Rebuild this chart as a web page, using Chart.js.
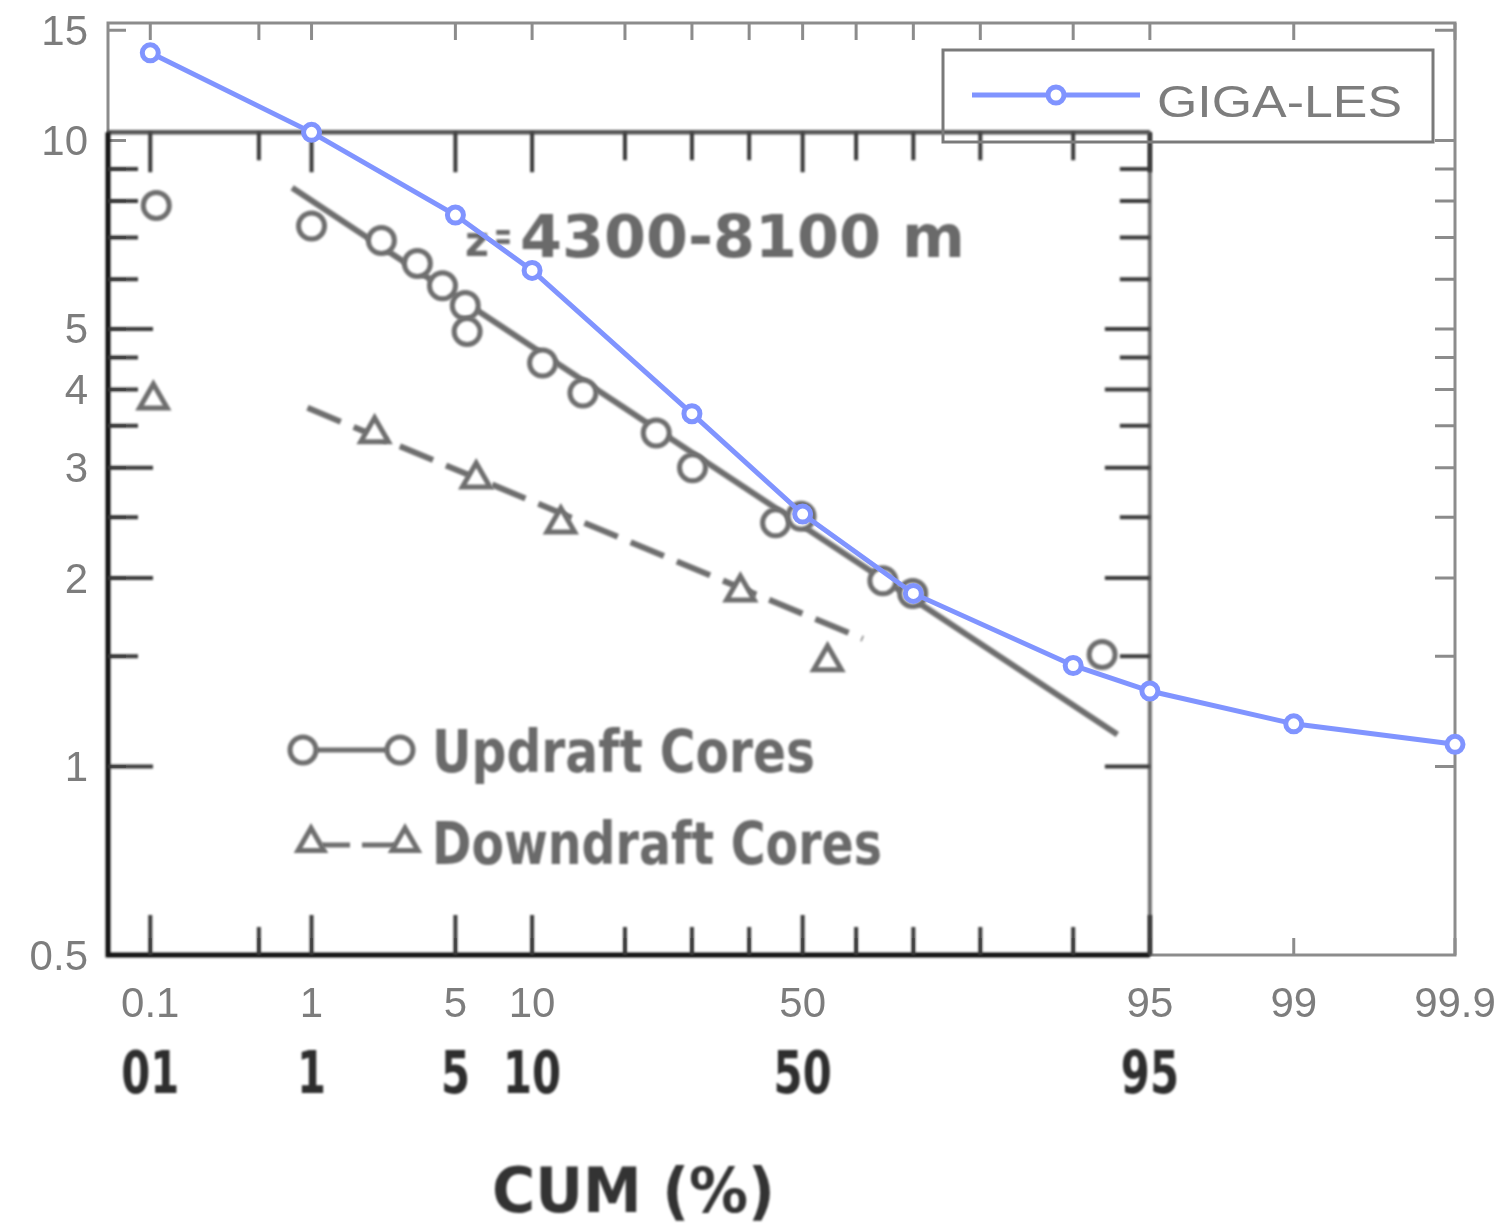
<!DOCTYPE html>
<html>
<head>
<meta charset="utf-8">
<script src="https://cdn.jsdelivr.net/npm/chart.js@4.4.0/dist/chart.umd.min.js"></script>
<style>
html, body { margin: 0; padding: 0; background: #fff; overflow: hidden; }
canvas { display: block; }
</style>
</head>
<body>
<canvas id="chart" width="1507" height="1226"></canvas>
<script>
// GIGA-LES curve: cumulative % and value
var gigaCum = [0.1, 1, 5, 10, 30, 50, 70, 90, 95, 99, 99.9];
var gigaVal = [13.8, 10.3, 7.6, 6.2, 3.66, 2.53, 1.89, 1.45, 1.32, 1.17, 1.085];

// scanned figure: updraft cores
var upCum = [0.11, 1, 2.3, 3.4, 4.4, 5.5, 5.6, 10.9, 14.9, 24.4, 30.1, 44.9, 49.7, 64.8, 69.9, 92.2];
var upVal = [7.87, 7.3, 6.92, 6.36, 5.86, 5.45, 4.95, 4.41, 3.95, 3.41, 3.0, 2.45, 2.51, 1.98, 1.89, 1.51];
var upFitCum = [0.78, 93.2];
var upFitVal = [8.4, 1.125];

// scanned figure: downdraft cores
var downCum = [0.105, 2.13, 6.1, 12.6, 38.4, 54.7];
var downVal = [3.85, 3.4, 2.88, 2.44, 1.9, 1.47];
var downFitCum = [0.95, 61.2];
var downFitVal = [3.74, 1.6];

// axes
var xTicks = [0.1, 0.5, 1, 5, 10, 20, 30, 40, 50, 60, 70, 80, 90, 95, 99, 99.9];
var xLabelTicks = [0.1, 1, 5, 10, 50, 95, 99, 99.9];
var xLabels = ['0.1', '1', '5', '10', '50', '95', '99', '99.9'];
var oldXLabelTicks = [0.1, 1, 5, 10, 50, 95];
var oldXLabels = ['01', '1', '5', '10', '50', '95'];
var yTicks = [1, 1.5, 2, 2.5, 3, 3.5, 4, 4.5, 5, 6, 7, 8, 9, 10, 15];
var yLabelTicks = [0.5, 1, 2, 3, 4, 5, 10, 15];
var oldBoxRight = 95;
var oldBoxTop = 10.3;

function pts(xs, ys) {
  return xs.map(function (x, i) { return { x: x, y: ys[i] }; });
}

// inverse normal cdf (Acklam)
function probit(p) {
  var a = [-3.969683028665376e+01, 2.209460984245205e+02, -2.759285104469687e+02, 1.383577518672690e+02, -3.066479806614716e+01, 2.506628277459239e+00];
  var b = [-5.447609879822406e+01, 1.615858368580409e+02, -1.556989798598866e+02, 6.680131188771972e+01, -1.328068155288572e+01];
  var c = [-7.784894002430293e-03, -3.223964580411365e-01, -2.400758277161838e+00, -2.549732539343734e+00, 4.374664141464968e+00, 2.938163982698783e+00];
  var d = [7.784695709041462e-03, 3.224671290700398e-01, 2.445134137142996e+00, 3.754408661907416e+00];
  var q, r;
  if (p < 0.02425) {
    q = Math.sqrt(-2 * Math.log(p));
    return (((((c[0]*q+c[1])*q+c[2])*q+c[3])*q+c[4])*q+c[5]) / ((((d[0]*q+d[1])*q+d[2])*q+d[3])*q+1);
  }
  if (p > 1 - 0.02425) {
    q = Math.sqrt(-2 * Math.log(1 - p));
    return -(((((c[0]*q+c[1])*q+c[2])*q+c[3])*q+c[4])*q+c[5]) / ((((d[0]*q+d[1])*q+d[2])*q+d[3])*q+1);
  }
  q = p - 0.5; r = q * q;
  return (((((a[0]*r+a[1])*r+a[2])*r+a[3])*r+a[4])*r+a[5])*q / (((((b[0]*r+b[1])*r+b[2])*r+b[3])*r+b[4])*r+1);
}

// normal probability scale, values in percent
class ProbitScale extends Chart.Scale {
  determineDataLimits() {
    this.min = this.options.min;
    this.max = this.options.max;
  }
  buildTicks() {
    return xLabelTicks.map(function (v) { return { value: v }; });
  }
  getLabelForValue(v) { return String(v); }
  getPixelForValue(v) {
    var z0 = probit(this.min / 100), z1 = probit(this.max / 100);
    return this.getPixelForDecimal((probit(v / 100) - z0) / (z1 - z0));
  }
  getValueForPixel(px) {
    var t = this.getDecimalForPixel(px), lo = this.min, hi = this.max;
    for (var i = 0; i < 50; i++) {
      var mid = (lo + hi) / 2;
      if (this.getDecimalForPixel(this.getPixelForValue(mid)) < t) lo = mid; else hi = mid;
    }
    return (lo + hi) / 2;
  }
}
ProbitScale.id = 'probit';
ProbitScale.defaults = {};
Chart.register(ProbitScale);

function fitText(ctx, text, x, y, w, font) {
  ctx.save();
  ctx.font = font;
  var m = ctx.measureText(text).width;
  ctx.translate(x, y);
  ctx.scale(w / m, 1);
  ctx.textAlign = 'left';
  ctx.textBaseline = 'alphabetic';
  ctx.fillText(text, 0, 0);
  ctx.restore();
}

var gigaColor = 'rgb(128, 148, 255)';
var scanGray = '#6e6e6e';

var overlay = {
  id: 'overlay',
  beforeDatasetsDraw: function (chart) {
    var ctx = chart.ctx, a = chart.chartArea, xs = chart.scales.x, ys = chart.scales.y;
    ctx.save();
    // new plot frame and ticks
    ctx.strokeStyle = '#8c8c8c';
    ctx.lineWidth = 3;
    ctx.strokeRect(a.left, a.top, a.right - a.left, a.bottom - a.top);
    ctx.beginPath();
    xTicks.forEach(function (v) {
      var x = xs.getPixelForValue(v);
      ctx.moveTo(x, a.top); ctx.lineTo(x, a.top + 17);
      ctx.moveTo(x, a.bottom); ctx.lineTo(x, a.bottom - 17);
    });
    yTicks.forEach(function (v) {
      var y = ys.getPixelForValue(v);
      ctx.moveTo(a.left, y); ctx.lineTo(a.left + 18, y);
      ctx.moveTo(a.right, y); ctx.lineTo(a.right - 20, y);
    });
    ctx.stroke();

    // old scanned figure box
    ctx.filter = 'blur(1px)';
    var bl = a.left, bb = a.bottom;
    var br = xs.getPixelForValue(oldBoxRight), bt = ys.getPixelForValue(oldBoxTop);
    ctx.lineCap = 'butt';
    ctx.strokeStyle = '#555';
    ctx.lineWidth = 4.5;
    ctx.beginPath(); ctx.moveTo(bl, bt); ctx.lineTo(br, bt); ctx.stroke();
    ctx.strokeStyle = '#707070';
    ctx.lineWidth = 4;
    ctx.beginPath(); ctx.moveTo(br, bt); ctx.lineTo(br, bb); ctx.stroke();
    ctx.strokeStyle = '#151515';
    ctx.lineWidth = 5;
    ctx.beginPath(); ctx.moveTo(bl, bt); ctx.lineTo(bl, bb); ctx.lineTo(br, bb); ctx.stroke();

    ctx.strokeStyle = '#3a3a3a';
    ctx.lineWidth = 4;
    ctx.beginPath();
    xTicks.forEach(function (v) {
      if (v > oldBoxRight) return;
      var x = xs.getPixelForValue(v);
      var len = oldXLabelTicks.indexOf(v) >= 0 ? 40 : 28;
      ctx.moveTo(x, bt); ctx.lineTo(x, bt + len);
      ctx.moveTo(x, bb); ctx.lineTo(x, bb - len);
    });
    yTicks.forEach(function (v) {
      if (v >= 10) return;
      var y = ys.getPixelForValue(v);
      var lenL = [1, 2, 3, 5].indexOf(v) >= 0 ? 45 : 30;
      var lenR = [1, 2, 3, 4, 5].indexOf(v) >= 0 ? 45 : 30;
      ctx.moveTo(bl, y); ctx.lineTo(bl + lenL, y);
      ctx.moveTo(br, y); ctx.lineTo(br - lenR, y);
    });
    ctx.stroke();

    // old legend
    var h = Chart.helpers;
    ctx.strokeStyle = scanGray;
    ctx.fillStyle = '#fff';
    ctx.lineWidth = 5;
    ctx.beginPath(); ctx.moveTo(316, 750); ctx.lineTo(387, 750); ctx.stroke();
    h.drawPoint(ctx, { pointStyle: 'circle', radius: 13, borderWidth: 5, rotation: 0 }, 303, 750);
    h.drawPoint(ctx, { pointStyle: 'circle', radius: 13, borderWidth: 5, rotation: 0 }, 400, 750);
    ctx.beginPath();
    ctx.moveTo(322, 845); ctx.lineTo(350, 845);
    ctx.moveTo(362, 845); ctx.lineTo(395, 845);
    ctx.stroke();
    ctx.fillStyle = '#fff';
    h.drawPoint(ctx, { pointStyle: 'triangle', radius: 15, borderWidth: 5, rotation: 0 }, 311, 843);
    h.drawPoint(ctx, { pointStyle: 'triangle', radius: 15, borderWidth: 5, rotation: 0 }, 405, 843);

    ctx.fillStyle = '#6a6a6a';
    fitText(ctx, 'Updraft Cores', 432, 772, 383, 'bold 58px "DejaVu Sans", sans-serif');
    fitText(ctx, 'Downdraft Cores', 432, 864, 450, 'bold 58px "DejaVu Sans", sans-serif');
    fitText(ctx, 'z', 465, 256, 24, 'bold 42px "DejaVu Sans", sans-serif');
    fitText(ctx, '=', 494, 250, 18, 'bold 40px "DejaVu Sans", sans-serif');
    fitText(ctx, '4300-8100 m', 520, 257, 445, 'bold 58px "DejaVu Sans", sans-serif');

    // old axis labels
    ctx.fillStyle = '#2e2e2e';
    ctx.font = 'bold 58px "DejaVu Sans", sans-serif';
    ctx.textBaseline = 'middle';
    oldXLabelTicks.forEach(function (v, i) {
      var x = xs.getPixelForValue(v);
      ctx.save();
      ctx.translate(x, 1078);
      ctx.scale(0.72, 1);
      ctx.textAlign = 'center';
      ctx.fillText(oldXLabels[i], 0, 0);
      ctx.restore();
    });
    ctx.fillStyle = '#333';
    fitText(ctx, 'CUM (%)', 492, 1212, 283, 'bold 62px "DejaVu Sans", sans-serif');
    ctx.restore();
  },
  beforeDatasetDraw: function (chart, args) {
    if (chart.data.datasets[args.index].scan) chart.ctx.filter = 'blur(1px)';
  },
  afterDatasetDraw: function (chart) {
    chart.ctx.filter = 'none';
  },
  afterDatasetsDraw: function (chart) {
    var ctx = chart.ctx;
    ctx.save();
    ctx.filter = 'none';
    ctx.strokeStyle = '#7a7a7a';
    ctx.lineWidth = 3;
    ctx.strokeRect(943, 50, 490, 92);
    ctx.strokeStyle = gigaColor;
    ctx.lineWidth = 5;
    ctx.beginPath(); ctx.moveTo(972, 95); ctx.lineTo(1140, 95); ctx.stroke();
    ctx.fillStyle = '#fff';
    Chart.helpers.drawPoint(ctx, { pointStyle: 'circle', radius: 8, borderWidth: 5, rotation: 0 }, 1056, 95);
    ctx.fillStyle = '#7d7d7d';
    fitText(ctx, 'GIGA-LES', 1157, 117, 245, '44px "Liberation Sans", Arial, sans-serif');
    ctx.restore();
  }
};

new Chart(document.getElementById('chart'), {
  type: 'line',
  data: {
    datasets: [
      {
        label: 'GIGA-LES',
        data: pts(gigaCum, gigaVal),
        borderColor: gigaColor,
        borderWidth: 5,
        pointRadius: 8,
        pointBorderWidth: 5,
        pointBorderColor: gigaColor,
        pointBackgroundColor: '#fff',
        tension: 0,
        clip: false,
        order: 0
      },
      {
        label: 'Updraft Cores',
        data: pts(upCum, upVal),
        showLine: false,
        pointStyle: 'circle',
        pointRadius: 13,
        pointBorderWidth: 5,
        pointBorderColor: scanGray,
        pointBackgroundColor: '#fff',
        clip: false,
        scan: true,
        order: 1
      },
      {
        label: 'Downdraft Cores',
        data: pts(downCum, downVal),
        showLine: false,
        pointStyle: 'triangle',
        pointRadius: 16,
        pointBorderWidth: 5,
        pointBorderColor: scanGray,
        pointBackgroundColor: '#fff',
        clip: false,
        scan: true,
        order: 2
      },
      {
        label: 'Updraft fit',
        data: pts(upFitCum, upFitVal),
        borderColor: scanGray,
        borderWidth: 6,
        pointRadius: 0,
        clip: false,
        scan: true,
        order: 3
      },
      {
        label: 'Downdraft fit',
        data: pts(downFitCum, downFitVal),
        borderColor: scanGray,
        borderWidth: 6,
        borderDash: [36, 14],
        pointRadius: 0,
        clip: false,
        scan: true,
        order: 4
      }
    ]
  },
  options: {
    responsive: false,
    animation: false,
    devicePixelRatio: 1,
    layout: { padding: { left: 0, top: 23, right: 52, bottom: 0 } },
    plugins: { legend: { display: false }, tooltip: { enabled: false } },
    scales: {
      x: {
        type: 'probit',
        position: 'bottom',
        min: 0.05,
        max: 99.9,
        grid: { display: false, drawTicks: false },
        border: { display: false },
        ticks: {
          autoSkip: false,
          maxRotation: 0,
          minRotation: 0,
          padding: 25,
          color: '#7d7d7d',
          font: { family: '"Liberation Sans", Arial, sans-serif', size: 42 },
          callback: function (v) {
            var i = xLabelTicks.indexOf(v);
            return i >= 0 ? xLabels[i] : '';
          }
        },
        afterFit: function (s) {
          s.height = 271;
          s.paddingLeft = 0; s.paddingRight = 0;
        }
      },
      y: {
        type: 'logarithmic',
        min: 0.5,
        max: 15.4,
        grid: { display: false, drawTicks: false },
        border: { display: false },
        afterBuildTicks: function (s) {
          s.ticks = yLabelTicks.map(function (v) { return { value: v }; });
        },
        ticks: {
          padding: 20,
          labelOffset: 3,
          color: '#7d7d7d',
          font: { family: '"Liberation Sans", Arial, sans-serif', size: 42 },
          callback: function (v) { return String(v); }
        },
        afterFit: function (s) {
          s.width = 108;
          s.paddingTop = 0; s.paddingBottom = 0;
        }
      }
    }
  },
  plugins: [overlay]
});
</script>
</body>
</html>
